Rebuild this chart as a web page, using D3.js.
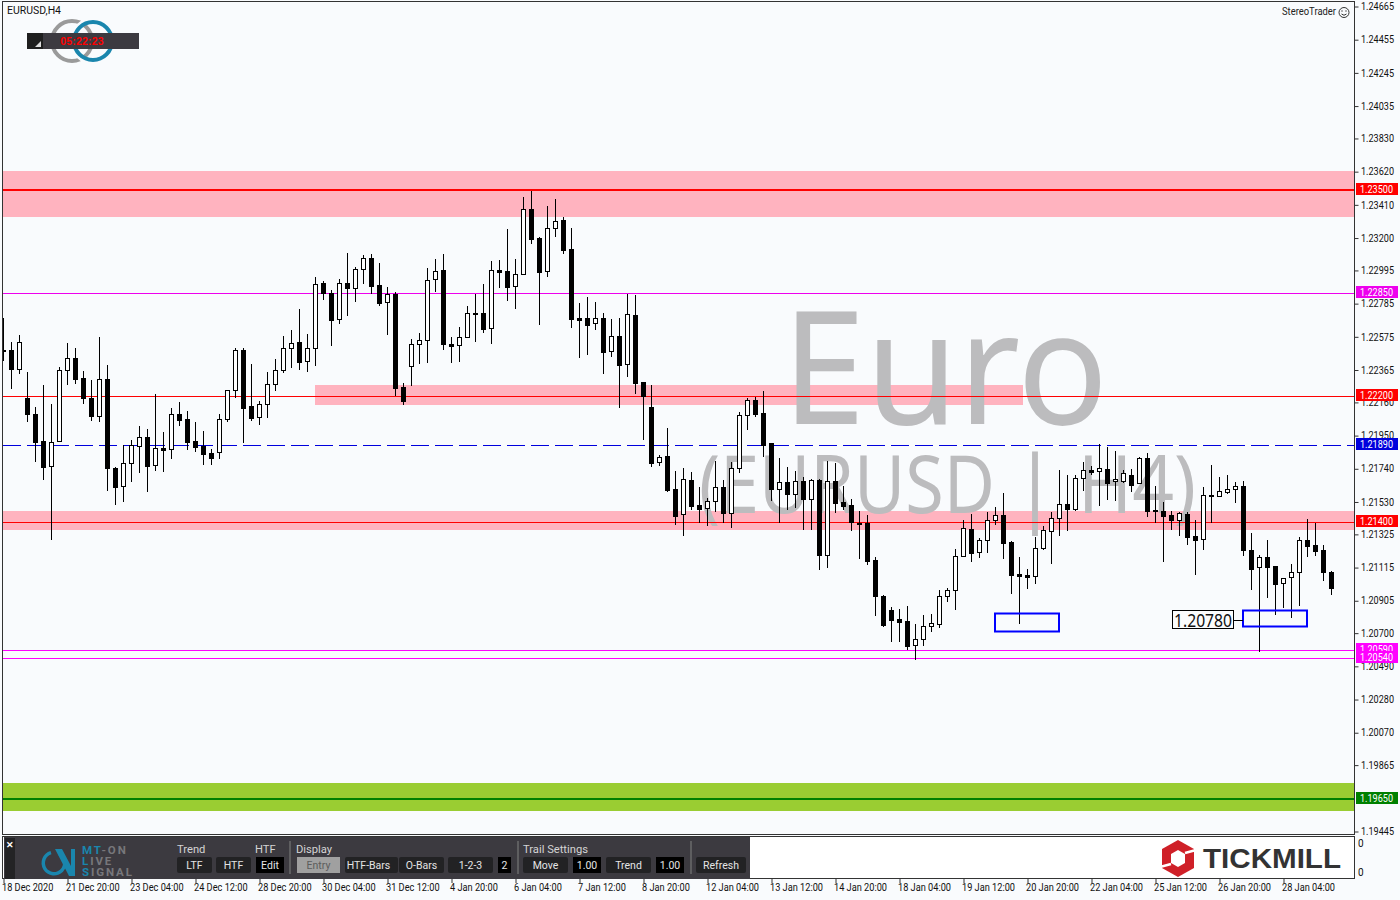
<!DOCTYPE html>
<html><head><meta charset="utf-8">
<script src="https://cdnjs.cloudflare.com/ajax/libs/d3/7.8.5/d3.min.js"></script>
<style>html,body{margin:0;padding:0;background:#f9fbfd;overflow:hidden}svg{display:block}text{font-family:Roboto,sans-serif}</style>
</head><body><svg id="c" width="1400" height="900"></svg>
<script>
const highs=[1.22689,1.22537,1.22581,1.22347,1.22126,1.22265,1.22145,1.22383,1.22531,1.22499,
1.22354,1.22297,1.22569,1.22392,1.21746,1.21885,1.21917,1.22005,1.21986,1.22208,
1.21967,1.22119,1.22157,1.22100,1.22031,1.21974,1.21860,1.22081,1.22233,1.22499,
1.22499,1.22398,1.22164,1.22347,1.22430,1.22577,1.22613,1.22746,1.22588,1.22949,
1.22923,1.22866,1.22937,1.23100,1.23011,1.23087,1.23096,1.23036,1.22885,1.22853,
1.22277,1.22555,1.22593,1.23005,1.23062,1.23093,1.22568,1.22631,1.22764,1.22842,
1.22904,1.23049,1.23055,1.23252,1.23062,1.23454,1.23492,1.23201,1.23397,1.23442,
1.23328,1.23258,1.22783,1.22821,1.22790,1.22720,1.22682,1.22688,1.22842,1.22834,
1.22283,1.22264,1.21822,1.21993,1.21723,1.21742,1.21717,1.21622,1.21550,1.21784,
1.21666,1.21778,1.22094,1.22185,1.22193,1.22227,1.21900,1.21805,1.21746,1.21723,
1.21687,1.21672,1.21672,1.21786,1.21771,1.21626,1.21544,1.21468,1.21442,1.21179,
1.20936,1.20860,1.20849,1.20866,1.20752,1.20809,1.20816,1.20968,1.20982,1.21229,
1.21411,1.21449,1.21297,1.21461,1.21492,1.21583,1.21277,1.21178,1.21100,1.21303,
1.21376,1.21463,1.21727,1.21695,1.21695,1.21777,1.21754,1.21891,1.21872,1.21847,
1.21727,1.21733,1.21809,1.21834,1.21628,1.21524,1.21467,1.21461,1.21461,1.21410,
1.21623,1.21758,1.21682,1.21695,1.21651,1.21659,1.21328,1.21189,1.21284,1.21121,
1.21047,1.21132,1.21303,1.21417,1.21393,1.21252,1.21087];
const bodyTops=[1.22489,1.22489,1.22537,1.22183,1.22081,1.21910,1.21904,1.22360,1.22436,1.22436,
1.22309,1.22183,1.22303,1.22303,1.21740,1.21771,1.21885,1.21936,1.21936,1.21866,
1.21866,1.22081,1.22081,1.22050,1.21910,1.21883,1.21834,1.22050,1.22233,1.22486,
1.22486,1.22132,1.22145,1.22271,1.22360,1.22499,1.22531,1.22537,1.22499,1.22904,
1.22911,1.22847,1.22910,1.22912,1.22999,1.23068,1.23068,1.22897,1.22840,1.22842,
1.22252,1.22524,1.22549,1.22929,1.22986,1.22992,1.22526,1.22568,1.22720,1.22720,
1.22720,1.22992,1.22992,1.22986,1.22967,1.23378,1.23378,1.23195,1.23258,1.23302,
1.23309,1.23125,1.22688,1.22688,1.22688,1.22688,1.22574,1.22574,1.22714,1.22707,
1.22283,1.22125,1.21813,1.21818,1.21609,1.21670,1.21664,1.21506,1.21531,1.21620,
1.21620,1.21740,1.22075,1.22170,1.22172,1.22088,1.21898,1.21651,1.21651,1.21658,
1.21658,1.21664,1.21664,1.21658,1.21658,1.21527,1.21506,1.21394,1.21394,1.21157,
1.20930,1.20841,1.20786,1.20771,1.20657,1.20744,1.20759,1.20930,1.20968,1.21183,
1.21360,1.21354,1.21284,1.21411,1.21442,1.21442,1.21271,1.21068,1.21062,1.21233,
1.21347,1.21423,1.21511,1.21511,1.21676,1.21727,1.21727,1.21739,1.21733,1.21670,
1.21708,1.21695,1.21803,1.21803,1.21473,1.21467,1.21442,1.21454,1.21448,1.21309,
1.21568,1.21568,1.21594,1.21606,1.21625,1.21625,1.21220,1.21176,1.21176,1.21119,
1.21047,1.21085,1.21284,1.21284,1.21252,1.21220,1.21081];
const bodyBottoms=[1.22484,1.22366,1.22366,1.22081,1.21908,1.21750,1.21752,1.21910,1.22360,1.22307,
1.22183,1.22073,1.22069,1.21744,1.21623,1.21626,1.21771,1.21883,1.21756,1.21759,
1.21858,1.21860,1.22048,1.21908,1.21877,1.21832,1.21807,1.21841,1.22050,1.22233,
1.22124,1.22060,1.22062,1.22145,1.22271,1.22360,1.22499,1.22415,1.22417,1.22499,
1.22852,1.22681,1.22682,1.22882,1.22882,1.22999,1.22895,1.22788,1.22790,1.22249,
1.22167,1.22389,1.22524,1.22549,1.22935,1.22528,1.22515,1.22517,1.22568,1.22718,
1.22623,1.22625,1.22984,1.22889,1.22891,1.22967,1.23193,1.22984,1.22986,1.23258,
1.23123,1.22686,1.22680,1.22648,1.22657,1.22477,1.22479,1.22395,1.22403,1.22281,
1.22197,1.21773,1.21778,1.21603,1.21440,1.21449,1.21504,1.21485,1.21487,1.21531,
1.21459,1.21459,1.21740,1.22075,1.22086,1.21888,1.21611,1.21611,1.21579,1.21579,
1.21546,1.21548,1.21193,1.21193,1.21523,1.21504,1.21402,1.21390,1.21155,1.20934,
1.20748,1.20782,1.20769,1.20617,1.20619,1.20657,1.20744,1.20757,1.20930,1.20968,
1.21183,1.21206,1.21208,1.21284,1.21410,1.21269,1.21066,1.21060,1.21054,1.21056,
1.21233,1.21341,1.21423,1.21484,1.21480,1.21676,1.21718,1.21720,1.21649,1.21657,
1.21661,1.21636,1.21644,1.21471,1.21467,1.21440,1.21412,1.21414,1.21307,1.21288,
1.21290,1.21566,1.21566,1.21592,1.21606,1.21225,1.21104,1.21113,1.21117,1.21009,
1.21011,1.21049,1.21081,1.21250,1.21218,1.21081,1.20984];
const lows=[1.22425,1.22250,1.22345,1.22041,1.21788,1.21674,1.21294,1.21910,1.22275,1.22282,
1.22155,1.22048,1.22041,1.21605,1.21516,1.21535,1.21661,1.21718,1.21598,1.21731,
1.21725,1.21807,1.22016,1.21864,1.21851,1.21769,1.21769,1.21807,1.22041,1.22193,
1.21908,1.22048,1.22022,1.22067,1.22238,1.22351,1.22381,1.22370,1.22358,1.22396,
1.22814,1.22520,1.22661,1.22709,1.22800,1.22914,1.22847,1.22771,1.22591,1.22203,
1.22148,1.22266,1.22408,1.22414,1.22863,1.22496,1.22414,1.22420,1.22568,1.22547,
1.22604,1.22534,1.22889,1.22807,1.22756,1.22967,1.23163,1.22655,1.22958,1.23212,
1.23104,1.22636,1.22446,1.22465,1.22623,1.22344,1.22452,1.22129,1.22325,1.22218,
1.21927,1.21754,1.21761,1.21596,1.21390,1.21318,1.21485,1.21398,1.21381,1.21468,
1.21398,1.21371,1.21719,1.21991,1.22073,1.21820,1.21539,1.21398,1.21482,1.21495,
1.21358,1.21358,1.21105,1.21117,1.21466,1.21485,1.21352,1.21174,1.21136,1.20811,
1.20744,1.20645,1.20649,1.20594,1.20531,1.20624,1.20712,1.20733,1.20902,1.20852,
1.21183,1.21155,1.21181,1.21212,1.21387,1.21172,1.20952,1.20762,1.20984,1.21014,
1.21227,1.21142,1.21317,1.21351,1.21476,1.21604,1.21701,1.21509,1.21547,1.21541,
1.21651,1.21598,1.21644,1.21440,1.21398,1.21155,1.21355,1.21317,1.21262,1.21073,
1.21231,1.21398,1.21562,1.21585,1.21526,1.21191,1.20978,1.20581,1.20927,1.20819,
1.20864,1.20800,1.20876,1.21184,1.21189,1.21035,1.20946];
const bullish=[0,0,1,0,0,0,1,1,1,0,
0,0,1,0,0,1,1,1,0,1,
0,1,0,0,0,0,0,1,1,1,
0,0,1,1,1,1,1,0,1,1,
0,0,1,0,1,1,0,0,1,0,
0,1,1,1,1,0,0,1,1,1,
0,1,0,0,1,1,0,0,1,1,
0,0,0,0,1,0,1,0,1,0,
0,0,1,0,0,1,0,0,1,1,
0,1,1,1,0,0,0,1,0,1,
0,1,0,1,0,0,0,0,0,0,
0,0,0,0,1,1,1,1,1,1,
1,0,1,1,1,0,0,0,0,1,
1,1,1,0,1,1,0,1,0,1,
1,0,1,0,0,0,0,1,0,0,
1,1,1,1,1,0,0,1,0,0,
1,1,1,0,0,0,0];
const priceTicks=["1.24665","1.24455","1.24245","1.24035","1.23830","1.23620","1.23410","1.23200","1.22995","1.22785","1.22575","1.22365","1.22160","1.21950","1.21740","1.21530","1.21325","1.21115","1.20905","1.20700","1.20490","1.20280","1.20070","1.19865","1.19445"];
const timeTicks=["18 Dec 2020","21 Dec 20:00","23 Dec 04:00","24 Dec 12:00","28 Dec 20:00","30 Dec 04:00","31 Dec 12:00","4 Jan 20:00","6 Jan 04:00","7 Jan 12:00","8 Jan 20:00","12 Jan 04:00","13 Jan 12:00","14 Jan 20:00","18 Jan 04:00","19 Jan 12:00","20 Jan 20:00","22 Jan 04:00","25 Jan 12:00","26 Jan 20:00","28 Jan 04:00"];
const timeTickIndex=timeTicks.map((_,k)=>k*8);
const levelPrices=[1.2350,1.2285,1.2220,1.2189,1.2140,1.2059,1.2054,1.1965];
const levelLabels=["1.23500","1.22850","1.22200","1.21890","1.21400","1.20590","1.20540","1.19650"];
const levelColors=["#ff0000","#ee00ee","#ff0000","#0000dd","#ff0000","#ff00ff","#ff00ff","#008000"];
const levelWidths=[2,1,1,1,1,1,1,2];
const zoneHigh=[1.23621,1.22267,1.21470,1.19749];
const zoneLow=[1.23330,1.22140,1.21349,1.19571];
const zoneFrom=[0,39,0,0];
const zoneTo=[168.9,127.5,168.9,168.9];
const zoneColors=["#ffb3bf","#ffb3bf","#ffb3bf","#9acd32"];
const boxHigh=[1.20822,1.20843];
const boxLow=[1.20708,1.20742];
const boxFrom=[124,155];
const boxTo=[132,163];
const markedPrice=1.2078;

const svg=d3.select("#c");
const x=d3.scaleLinear().domain([0,166]).range([3,1331]);
const y=d3.scaleLinear().domain([1.24665,1.19445]).range([6,831]);
const ry=p=>Math.round(y(p));

svg.append("defs").append("clipPath").attr("id","plot").append("rect").attr("x",3).attr("y",3).attr("width",1351).attr("height",831);
svg.append("rect").attr("width",1400).attr("height",900).attr("fill","#f9fbfd");
const plot=svg.append("g").attr("clip-path","url(#plot)");

// zones
plot.selectAll("rect.zone").data(zoneHigh).join("rect").attr("class","zone")
 .attr("x",(d,i)=>x(zoneFrom[i])).attr("width",(d,i)=>x(zoneTo[i])-x(zoneFrom[i]))
 .attr("y",d=>ry(d)).attr("height",(d,i)=>ry(zoneLow[i])-ry(d)).attr("fill",(d,i)=>zoneColors[i]);

// watermark
const wm=(s,px,py,size,len)=>plot.append("text").text(s).attr("x",px).attr("y",py).attr("font-size",size).attr("fill","#bcbcbe")
 .attr("textLength",len).attr("lengthAdjust","spacingAndGlyphs").style("font-family","'Noto Sans'");
wm("Euro",782,424,158,326);
wm("(EURUSD",699,513,80,296);
wm("|",1013,516,84,44);
wm("H4)",1078,513,80,118);

// levels
plot.selectAll("line.level").data(levelPrices).join("line").attr("class","level")
 .attr("x1",3).attr("x2",1354)
 .attr("y1",(d,i)=>ry(d)+(levelWidths[i]===2?0:0.5)).attr("y2",(d,i)=>ry(d)+(levelWidths[i]===2?0:0.5))
 .attr("stroke",(d,i)=>levelColors[i]).attr("stroke-width",(d,i)=>levelWidths[i])
 .attr("stroke-dasharray",(d,i)=>i===3?"18 6":null);

// candles
const candles=plot.append("g").selectAll("g").data(highs).join("g");
candles.append("line").attr("shape-rendering","crispEdges")
 .attr("x1",(d,i)=>x(i)+.5).attr("x2",(d,i)=>x(i)+.5)
 .attr("y1",d=>ry(d)).attr("y2",(d,i)=>ry(lows[i])+1)
 .attr("stroke","#000");
candles.append("rect").attr("shape-rendering","crispEdges")
 .attr("x",(d,i)=>x(i)-1.5).attr("width",4)
 .attr("y",(d,i)=>ry(bodyTops[i])+.5)
 .attr("height",(d,i)=>Math.max(1,ry(bodyBottoms[i])-ry(bodyTops[i])))
 .attr("fill",(d,i)=>bullish[i]?"#fff":"#000").attr("stroke","#000");

// marked boxes
plot.selectAll("rect.box").data(boxHigh).join("rect").attr("class","box")
 .attr("x",(d,i)=>x(boxFrom[i])).attr("width",(d,i)=>x(boxTo[i])-x(boxFrom[i]))
 .attr("y",d=>ry(d)+.5).attr("height",(d,i)=>ry(boxLow[i])-ry(d))
 .attr("fill","none").attr("stroke","#0000ff").attr("stroke-width",2);
plot.append("line").attr("x1",1234).attr("x2",1243).attr("y1",ry(markedPrice)+.5).attr("y2",ry(markedPrice)+.5).attr("stroke","#000");
plot.append("rect").attr("x",1172.5).attr("y",ry(markedPrice)-9.5).attr("width",61).attr("height",18).attr("fill","#fbfcfd").attr("stroke","#000");
plot.append("text").text(markedPrice.toFixed(5)).attr("x",1203).attr("y",ry(markedPrice)+6.5).attr("text-anchor","middle").attr("font-size",17.5).attr("fill","#111")
 .style("font-family","'Noto Sans'").attr("textLength",58).attr("lengthAdjust","spacingAndGlyphs");

// frames
svg.append("rect").attr("x",2.5).attr("y",1.5).attr("width",1352).attr("height",833).attr("fill","none").attr("stroke","#333");
svg.append("rect").attr("x",2.5).attr("y",836.5).attr("width",1352).attr("height",42).attr("fill","#fff").attr("stroke","#333");

// axes
const yAxis=d3.axisRight(y).tickValues(priceTicks.map(Number)).tickFormat(d=>d.toFixed(5)).tickSize(4).tickSizeOuter(0);
const ya=svg.append("g").attr("transform","translate(1354.5,0.5)").call(yAxis);
ya.select(".domain").remove();
ya.selectAll("line").attr("stroke","#333");
ya.selectAll("text").attr("x",6.5).attr("font-size",10).attr("fill","#111").attr("textLength",33).attr("lengthAdjust","spacingAndGlyphs").style("font-family","Roboto");
const xAxis=d3.axisBottom(x).tickValues(timeTickIndex).tickFormat((d,i)=>timeTicks[i]).tickSize(4).tickSizeOuter(0);
const xa=svg.append("g").attr("transform","translate(0.5,879)").call(xAxis);
xa.select(".domain").remove();
xa.selectAll("line").attr("stroke","#333");
xa.selectAll("text").attr("text-anchor","start").attr("x",-2).attr("y",5).attr("font-size",10).attr("fill","#111").style("font-family","Roboto")
 .each(function(){d3.select(this).attr("textLength",this.getComputedTextLength()*0.92).attr("lengthAdjust","spacingAndGlyphs");});

// price tags
const tags=svg.append("g").selectAll("g").data(levelPrices).join("g");
tags.append("rect").attr("x",1356).attr("width",42).attr("y",d=>ry(d)-7).attr("height",12).attr("fill",(d,i)=>levelColors[i]);
tags.append("text").text((d,i)=>levelLabels[i]).attr("x",1360).attr("y",d=>ry(d)+3).attr("font-size",10).attr("fill","#fff").attr("textLength",33).attr("lengthAdjust","spacingAndGlyphs");
svg.append("g").selectAll("text").data(["0","0"]).join("text").text(d=>d).attr("x",1358).attr("y",(d,i)=>i?876:847).attr("font-size",10).attr("fill","#111");

// top-left title and timer
svg.append("text").text("EURUSD,H4").attr("x",7).attr("y",14).attr("font-size",10).attr("fill","#111").attr("textLength",54).attr("lengthAdjust","spacingAndGlyphs");
svg.append("circle").attr("cx",72).attr("cy",41).attr("r",20).attr("fill","none").attr("stroke","#9a9a9a").attr("stroke-width",4);
svg.append("circle").attr("cx",93).attr("cy",41).attr("r",22).attr("fill","none").attr("stroke","#f9fbfd").attr("stroke-width",3);
svg.append("circle").attr("cx",93).attr("cy",41).attr("r",19).attr("fill","none").attr("stroke","#1a86ad").attr("stroke-width",4);
svg.append("rect").attr("x",27).attr("y",33).attr("width",112).attr("height",16).attr("fill","#3c3a40");
svg.append("rect").attr("x",27).attr("y",33).attr("width",16).attr("height",16).attr("fill","#1f1f1f");
svg.append("path").attr("d","M35 47 L41 41 L41 47 Z").attr("fill","#ddd");
svg.append("text").text("05:22:23").attr("x",82).attr("y",45).attr("text-anchor","middle").attr("font-size",10.5).attr("font-weight","bold").attr("fill","#ff0000").attr("letter-spacing",.2).style("font-family","'Liberation Sans'");

// StereoTrader
svg.append("text").text("StereoTrader").attr("x",1282).attr("y",15).attr("font-size",10).attr("fill","#222").attr("textLength",54).attr("lengthAdjust","spacingAndGlyphs");
svg.append("circle").attr("cx",1344).attr("cy",12.5).attr("r",5).attr("fill","none").attr("stroke","#333");
svg.append("circle").attr("cx",1342).attr("cy",11).attr("r",.7).attr("fill","#333");
svg.append("circle").attr("cx",1346).attr("cy",11).attr("r",.7).attr("fill","#333");
svg.append("path").attr("d","M1341.5 14 Q1344 16.5 1346.5 14").attr("fill","none").attr("stroke","#333");

// control panel
const p=svg.append("g");
p.append("rect").attr("x",4).attr("y",837).attr("width",746).attr("height",42).attr("fill","#3c3a40");
p.append("rect").attr("x",5).attr("y",838).attr("width",10).attr("height",41).attr("fill","#232325");
p.append("text").text("✕").attr("x",9.5).attr("y",848).attr("text-anchor","middle").attr("font-size",9).attr("font-weight","bold").attr("fill","#fff");
// panel logo
p.append("path").attr("d",d3.arc()({innerRadius:9,outerRadius:12.5,startAngle:0.5,endAngle:6.0})).attr("transform","translate(54,863)").attr("fill","#1a86ad");
p.append("path").attr("d","M55 849 L62 849 L71 866 L71 849 L75 849 L75 876 L69 876 Z").attr("fill","#1a86ad");
const lg=[["MT","-ON",850],["L","IVE",861],["S","IGNAL",872]];
lg.forEach(r=>{const t=p.append("text").attr("x",82).attr("y",r[2]+4).attr("font-size",11.5).attr("font-weight","bold").attr("letter-spacing",1.9);
 t.append("tspan").text(r[0]).attr("fill","#1a86ad");t.append("tspan").text(r[1]).attr("fill","#77777b");});
[["Trend",177],["HTF",255],["Display",296],["Trail Settings",523]].forEach(l=>p.append("text").text(l[0]).attr("x",l[1]).attr("y",853).attr("font-size",11.2).attr("fill","#d4d4d4"));
[289,517,690].forEach(s=>p.append("rect").attr("x",s).attr("y",841).attr("width",2).attr("height",33).attr("fill","#5e5e60"));
const btns=[["LTF",177,212,0],["HTF",216,251,0],["Edit",256,284,1],["Entry",297,340,2],["HTF-Bars",345,392,0],["O-Bars",399,444,0],["1-2-3",448,493,0],["2",498,511,1],["Move",523,568,0],["1.00",573,601,1],["Trend",606,651,0],["1.00",656,684,1],["Refresh",696,746,0]];
btns.forEach(b=>{
 p.append("rect").attr("x",b[1]).attr("y",857).attr("width",(b[0]==="HTF-Bars"?53:b[2]-b[1])).attr("height",16).attr("rx",b[3]===0?2:0)
  .attr("fill",b[3]===0?"#222224":b[3]===1?"#000":"#a0a0a0");
 p.append("text").text(b[0]).attr("x",(b[1]+b[2])/2).attr("y",869).attr("text-anchor","middle").attr("font-size",10.5).attr("fill",b[3]===2?"#5c5c5c":"#e4e4e4");
});

// Tickmill logo
const t=svg.append("g");
t.append("path").attr("d","M1178 840 L1194 849 L1194 868 L1178 877 L1162 868 L1162 849 Z").attr("fill","#cf2028");
t.append("path").attr("d","M1178 850 L1185 854 L1185 863 L1178 867 L1171 863 L1171 854 Z").attr("fill","#fff");
t.append("path").attr("d","M1185 853 L1196 850 M1160 867 L1171 864").attr("stroke","#fff").attr("stroke-width",2.5);
t.append("text").text("TICKMILL").attr("x",1203).attr("y",868).attr("font-size",28).attr("font-weight","bold").attr("fill","#333")
 .attr("textLength",138).attr("lengthAdjust","spacingAndGlyphs").style("font-family","'Liberation Sans'");
</script></body></html>
